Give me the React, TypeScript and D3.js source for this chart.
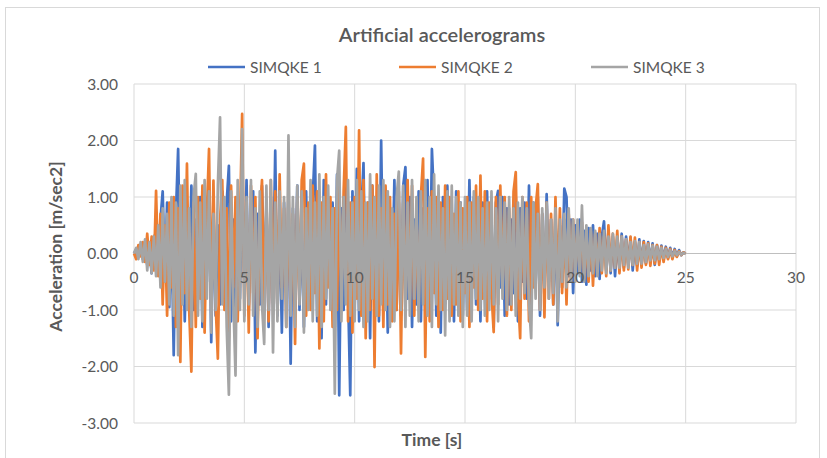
import { useMemo } from 'react'
import * as d3 from 'd3'

// sample step of the records (s)
const DT = 0.1

const xTicks = [0, 5, 10, 15, 20, 25, 30]
const yTicks = [-3, -2, -1, 0, 1, 2, 3]
const seriesNames = ['SIMQKE 1', 'SIMQKE 2', 'SIMQKE 3']
const seriesColors = ['#4472C4', '#ED7D31', '#A5A5A5']

// SIMQKE 1, one row per second
const simqke1 = [
  0, 0.08, -0.05, 0.12, -0.1, 0.15, -0.2, 0.1, -0.35, 0.25,
  0.4, -0.3, 0.6, 1.1, -0.5, 0.9, -0.95, 0.4, -1.8, 0.7,
  1.85, -0.6, 0.9, -1.2, 0.5, -0.8, 1.2, -1.0, 0.6, -0.4,
  1.0, -1.3, 0.7, -0.5, 1.3, -1.57, 0.8, -1.1, 0.5, -0.9,
  1.1, -0.7, 0.9, 1.55, -1.2, 0.6, -1.4, 1.0, -0.8, 1.2,
  -0.6, 1.3, -1.0, 0.5, 1.1, -1.75, 0.7, -0.9, 1.2, -0.5,
  0.8, -1.3, 1.0, -0.6, 1.82, -1.1, 0.6, -1.4, 0.9, -0.7,
  1.0, -1.95, 0.8, -0.5, 1.2, -1.0, 0.6, -1.3, 1.1, -0.8,
  0.7, 1.0, 1.91, -1.2, 0.5, -1.5, 1.3, -0.9, 1.0, -0.6,
  0.9, -1.3, 1.4, -2.51, 0.8, -1.0, 1.2, -0.7, -2.51, 1.1,
  -0.9, 1.5, -1.2, 0.7, 1.6, -1.0, 0.9, -1.5, 1.2, -0.8,
  1.0, -1.2, 2.0, -0.7, 1.1, -1.4, 0.8, -0.6, 1.3, -1.0,
  0.9, -1.1, 1.2, 1.53, -0.8, 1.0, -1.3, 0.6, -0.9, 1.1,
  -1.2, 0.8, -0.6, 1.3, -1.0, 1.85, 0.9, -1.1, 0.7, -1.4,
  1.0, -0.8, 1.2, -1.0, 0.6, -1.2, 1.1, -0.7, 0.9, -1.1,
  0.8, -1.0, 1.3, -0.6, 1.0, -0.9, 0.7, -1.2, 0.9, -0.5,
  1.1, -0.8, 0.7, -1.3, 0.9, 1.11, -0.6, 1.0, -1.1, 0.8,
  -0.9, 0.6, -0.7, 1.0, -1.2, 0.8, -0.5, 0.9, -0.8, 1.2,
  -1.0, 0.9, -0.6, 1.0, -1.1, 0.7, -0.8, 1.05, -0.5, 0.6,
  -0.9, 0.7, -1.27, 0.5, -0.6, 1.15, 1.0, -0.4, 0.6, -0.7,
  0.5, -0.35, 0.6, -0.5, 0.4, -0.55, 0.45, -0.3, 0.5, -0.4,
  0.35, -0.45, 0.3, 0.57, -0.3, 0.4, -0.35, 0.3, -0.4, 0.25,
  -0.3, 0.35, -0.25, 0.3, -0.2, 0.28, -0.3, 0.2, -0.22, 0.25,
  -0.2, 0.22, -0.18, 0.2, -0.15, 0.18, -0.2, 0.15, -0.12, 0.14,
  -0.1, 0.12, -0.08, 0.1, -0.07, 0.08, -0.05, 0.06, -0.03, 0.02,
  0,
]

const simqke2 = [
  0, -0.1, 0.15, -0.05, 0.2, -0.15, 0.35, -0.2, 0.3, -0.3,
  1.11, -0.4, 0.7, -0.9, 0.5, -1.1, 0.9, -0.6, 1.0, -1.3,
  0.8, -1.92, 1.2, -0.7, 1.59, -1.0, -2.09, 0.9, -1.3, 1.0,
  -0.8, 1.2, -1.4, 0.7, 1.85, -1.0, 1.29, -0.9, -1.86, 0.6,
  1.3, -1.0, 0.8, -1.5, 1.2, -0.6, 1.0, -1.2, 0.5, 2.47,
  -1.1, 0.9, -1.4, 1.2, -0.7, 1.0, -1.5, 0.6, 1.3, -1.0,
  0.9, -1.2, 1.3, -0.8, 1.1, -1.0, 1.4, -0.6, 0.8, -1.3,
  1.2, -0.9, 0.7, -1.6, 1.0, -0.8, 1.3, 1.59, -1.1, 0.9,
  -1.0, 1.2, -0.7, 1.1, -1.68, 0.9, -1.2, 1.4, -0.6, 1.0,
  -1.3, 0.8, -1.0, 1.2, -0.7, 1.1, 2.24, -1.2, 0.9, -1.4,
  1.0, -0.8, 2.18, -1.1, 1.3, -1.5, 0.9, -1.0, 1.2, -2.01,
  1.4, -1.1, 0.8, -1.3, 1.2, -0.9, 1.0, -1.2, 0.7, -1.0,
  1.1, -1.77, 0.9, -1.0, 1.3, -0.8, 1.2, -1.1, 0.6, -0.9,
  1.0, 1.68, -1.83, 0.8, -1.2, 1.1, -0.7, 1.0, -1.3, 0.9,
  -1.0, 1.2, -0.8, 1.0, -1.1, 0.7, -0.9, 1.1, -1.2, 0.8,
  -0.7, 1.0, -1.3, 0.9, -0.6, 1.2, -1.0, 1.38, -0.8, 1.1,
  -1.2, 0.9, -0.7, -1.39, 1.0, -0.9, 1.2, -0.6, 1.0, -1.1,
  0.8, -1.0, 1.1, 1.44, -0.7, -1.5, 1.0, -0.8, 0.9, -1.2,
  1.0, -0.6, 0.8, 1.23, -1.0, 0.7, -1.13, 0.9, -0.8, 0.7,
  -0.9, 1.0, -0.6, 0.8, -0.7, 0.6, -0.9, 0.7, -0.5, 0.6,
  -0.4, 0.5, -0.3, 0.55, -0.45, 0.3, -0.5, 0.4, -0.57, 0.35,
  -0.3, 0.45, -0.35, 0.3, -0.4, 0.5, -0.3, 0.35, -0.25, 0.4,
  -0.35, 0.3, -0.3, 0.25, -0.28, 0.3, -0.2, 0.28, -0.3, 0.2,
  -0.25, 0.2, -0.2, 0.18, -0.22, 0.15, -0.18, 0.15, -0.2, 0.12,
  -0.15, 0.1, -0.1, 0.08, -0.1, 0.06, -0.06, 0.04, -0.03, 0.02,
  0,
]

const simqke3 = [
  0, 0.1, -0.1, 0.2, -0.15, 0.25, -0.3, 0.2, -0.35, 0.3,
  -0.4, 0.5, -0.6, 0.8, -0.5, 0.7, -0.9, 1.0, -1.1, 0.9,
  -1.8, 1.2, -0.9, 1.3, -1.0, 0.8, -1.3, 1.0, 1.41, -1.1,
  0.9, -1.2, 1.3, -0.8, 1.1, -1.4, 0.7, -1.0, 1.2, 2.41,
  -0.9, 1.0, -1.3, -2.5, 1.1, -0.8, -2.16, 1.3, -1.0, 2.2,
  -1.2, 1.0, -0.9, 1.3, -1.1, 0.8, -1.3, 1.1, -0.9, -1.6,
  1.2, -1.0, 1.3, -1.75, 0.9, -1.2, 1.1, -0.8, 1.0, -1.3,
  2.09, -1.1, 1.0, -1.3, 1.2, -0.9, 1.1, -1.4, 0.8, -1.0,
  1.3, -1.2, 0.9, -1.1, 1.4, -1.3, 1.0, -0.8, 1.2, -1.0,
  0.8, -2.48, 1.3, 1.82, -1.2, 1.0, -0.9, 1.3, -1.1, 0.9,
  -1.2, 1.3, -1.0, 1.1, -1.3, 0.9, -1.2, 1.4, -0.8, 1.0,
  -1.1, 1.2, -0.9, 1.3, -1.0, 1.1, -1.3, 0.8, -1.2, 1.0,
  1.45, -1.0, 1.2, -1.3, 0.9, -1.1, 1.3, -0.8, 1.0, -1.2,
  1.1, -0.9, 1.3, -1.1, 1.0, -1.3, 1.4, -0.9, 1.2, -1.0,
  0.8, -1.45, 1.1, -1.2, 1.2, -0.9, 1.0, -1.1, 0.9, -1.3,
  1.0, -1.1, 0.9, -1.2, 1.1, -0.8, 1.0, -1.0, 0.8, -1.1,
  0.9, -1.0, 1.1, -0.9, 0.8, -1.2, 1.0, -0.8, 0.9, -1.0,
  1.0, -0.9, 0.8, -1.1, 0.9, -0.8, 1.0, -0.7, 0.8, -0.9,
  -1.5, 0.9, -0.8, 0.7, -1.0, 0.8, -0.6, 0.9, -0.8, 0.6,
  -0.7, 0.8, -1.2, 0.6, -0.5, 0.7, -0.6, 0.8, -0.5, 0.6,
  -0.5, 0.6, -0.4, 0.85, -0.5, 0.5, -0.4, 0.45, -0.35, 0.4,
  -0.4, 0.35, -0.3, 0.4, -0.35, 0.3, -0.3, 0.35, -0.25, 0.3,
  -0.25, 0.3, -0.2, 0.25, -0.25, 0.2, -0.2, 0.22, -0.18, 0.2,
  -0.18, 0.15, -0.15, 0.16, -0.12, 0.14, -0.12, 0.12, -0.1, 0.1,
  -0.08, 0.08, -0.06, 0.06, -0.05, 0.04, -0.03, 0.03, -0.02, 0.01,
  0,
]

const FONT = 'Lato, "Open Sans", sans-serif'

export default function App() {
  const width = 827
  const height = 458
  const margin = { left: 134, right: 31, top: 84, bottom: 35 }

  const x = d3.scaleLinear().domain([0, 30]).range([margin.left, width - margin.right])
  const y = d3.scaleLinear().domain([-3, 3]).range([height - margin.bottom, margin.top])

  const paths = useMemo(() => {
    const line = d3
      .line<number>()
      .x((_, i) => x(i * DT))
      .y((d) => y(d))
    return [simqke1, simqke2, simqke3].map((s) => line(s) ?? '')
  }, [])

  const legendX = [208, 399, 591]

  return (
    <svg
      width={width}
      height={height}
      style={{ position: 'absolute', left: 0, top: 0, background: '#fff' }}
      fontFamily={FONT}
    >
      <rect x={5.5} y={7.5} width={814} height={470} fill="#fff" stroke="#d9d9d9" />

      {/* gridlines */}
      {yTicks.map((t) => (
        <line key={'gy' + t} x1={x(0)} x2={x(30)} y1={y(t)} y2={y(t)} stroke="#d9d9d9" strokeWidth={1} />
      ))}
      {xTicks.map((t) => (
        <line key={'gx' + t} x1={x(t)} x2={x(t)} y1={y(3)} y2={y(-3)} stroke="#d9d9d9" strokeWidth={1} />
      ))}

      {/* zero axis */}
      <line x1={x(0)} x2={x(30)} y1={y(0)} y2={y(0)} stroke="#bfbfbf" strokeWidth={1} />

      {paths.map((d, i) => (
        <path key={i} d={d} fill="none" stroke={seriesColors[i]} strokeWidth={2.7} strokeLinejoin="round" />
      ))}

      {/* y tick labels */}
      {yTicks.map((t) => (
        <text key={'ty' + t} x={118} y={y(t) + 5.5} textAnchor="end" fontSize={15.5} fill="#595959">
          {t.toFixed(2)}
        </text>
      ))}
      {/* x tick labels */}
      {xTicks.map((t) => (
        <text key={'tx' + t} x={x(t)} y={y(0) + 29} textAnchor="middle" fontSize={15.5} fill="#595959">
          {t}
        </text>
      ))}

      <text x={442} y={42} textAnchor="middle" fontSize={20} fill="#595959" fontWeight={600}>
        Artificial accelerograms
      </text>

      {seriesNames.map((n, i) => (
        <g key={n}>
          <line x1={legendX[i]} x2={legendX[i] + 37} y1={67} y2={67} stroke={seriesColors[i]} strokeWidth={2.7} />
          <text x={legendX[i] + 42} y={72.5} fontSize={15.5} fill="#595959">
            {n}
          </text>
        </g>
      ))}

      <text
        transform={`translate(62,${y(0) - 7}) rotate(-90)`}
        textAnchor="middle"
        fontSize={17.5}
        fontWeight="bold"
        fill="#595959"
      >
        Acceleration [m/sec2]
      </text>
      <text x={432} y={446} textAnchor="middle" fontSize={17.5} fontWeight="bold" fill="#595959">
        Time [s]
      </text>
    </svg>
  )
}
